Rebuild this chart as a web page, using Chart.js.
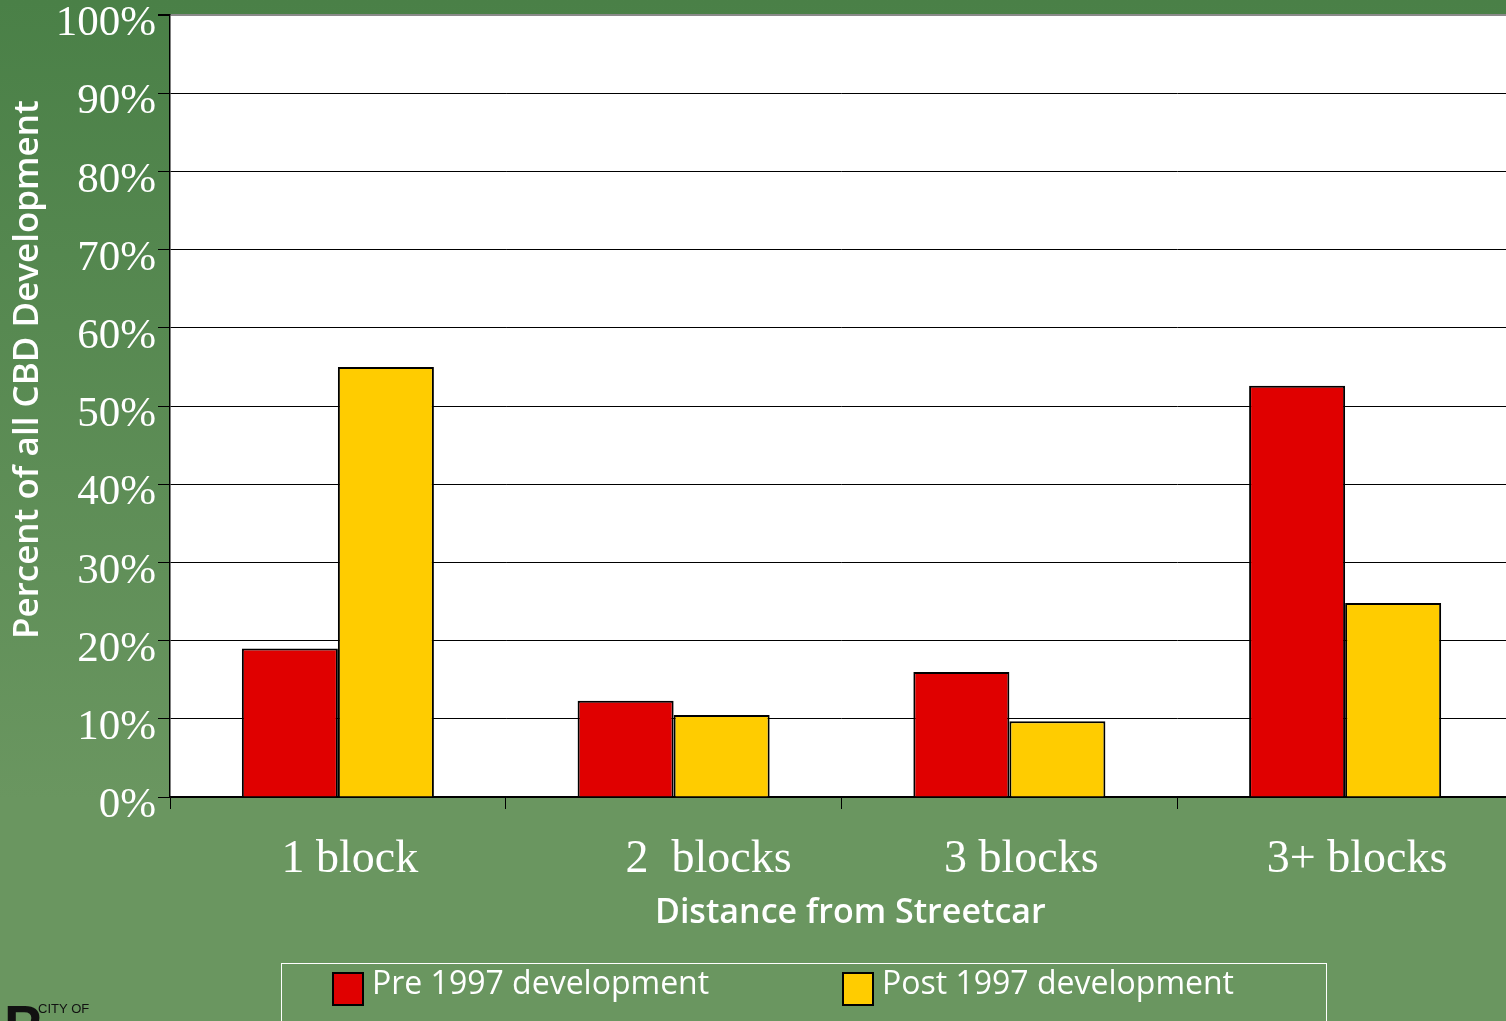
<!DOCTYPE html>
<html>
<head>
<meta charset="utf-8">
<script src="https://cdn.jsdelivr.net/npm/chart.js@4.4.1/dist/chart.umd.min.js"></script>
<style>
html, body { margin: 0; padding: 0; background: #6a9660; overflow: hidden; }
#wrap { width: 1506px; height: 1021px; overflow: hidden; }
</style>
</head>
<body>
<div id="wrap"><canvas id="chart" width="1513" height="1021"></canvas></div>
<script>
// data (percent of all CBD development)
var categories = ['1 block', '2  blocks', '3 blocks', '3+ blocks'];
var preValues = [19, 12.3, 16, 52.6];
var postValues = [55, 10.5, 9.7, 24.8];
var seriesNames = ['Pre 1997 development', 'Post 1997 development'];
var seriesColors = ['#e00000', '#ffcc00'];
var yMax = 100;
var yStep = 10;

// green slide background + white plot area
var bgPlugin = {
	id: 'bg',
	beforeDraw: function (chart) {
		var ctx = chart.ctx, a = chart.chartArea;
		var g = ctx.createLinearGradient(0, 0, 0, 800);
		g.addColorStop(0, '#4a8047');
		g.addColorStop(1, '#6a9660');
		ctx.save();
		ctx.fillStyle = g;
		ctx.fillRect(0, 0, chart.width, chart.height);
		ctx.fillStyle = '#ffffff';
		ctx.fillRect(a.left, a.top, a.right - a.left, a.bottom - a.top);
		ctx.restore();
	}
};

// boxed legend along the bottom, plus the cropped city logo
var legendPlugin = {
	id: 'legendBox',
	afterDraw: function (chart) {
		var ctx = chart.ctx;
		var xs = [333, 843];
		ctx.save();
		ctx.strokeStyle = '#ffffff';
		ctx.lineWidth = 1;
		ctx.strokeRect(281.5, 963.5, 1045, 80);
		chart.data.datasets.forEach(function (ds, i) {
			ctx.fillStyle = ds.backgroundColor;
			ctx.fillRect(xs[i], 973, 30, 32);
			ctx.strokeStyle = '#000';
			ctx.lineWidth = 2;
			ctx.strokeRect(xs[i], 973, 30, 32);
			ctx.fillStyle = '#ffffff';
			ctx.font = '32px "Open Sans"';
			ctx.textBaseline = 'middle';
			ctx.textAlign = 'left';
			ctx.fillText(ds.label, xs[i] + 39, 985);
		});
		ctx.fillStyle = '#111';
		ctx.textBaseline = 'alphabetic';
		ctx.font = '13px "Liberation Sans Narrow", "Liberation Sans"';
		ctx.fillText('CITY OF', 38, 1013);
		ctx.font = 'bold 56px "Liberation Sans"';
		ctx.fillText('P', 4, 1044);
		ctx.font = 'bold 30px "Liberation Sans"';
		ctx.fillText('ORTLAND', 38, 1043);
		ctx.restore();
	}
};

new Chart(document.getElementById('chart'), {
	type: 'bar',
	data: {
		labels: categories,
		datasets: [
			{ label: seriesNames[0], data: preValues, backgroundColor: seriesColors[0], borderColor: '#000', borderWidth: 2 },
			{ label: seriesNames[1], data: postValues, backgroundColor: seriesColors[1], borderColor: '#000', borderWidth: 2 }
		]
	},
	options: {
		responsive: false,
		animation: false,
		devicePixelRatio: 1,
		layout: { padding: { top: 15, left: 0, right: 0, bottom: 0 } },
		datasets: { bar: { barPercentage: 1, categoryPercentage: 0.572 } },
		plugins: { legend: { display: false }, tooltip: { enabled: false } },
		scales: {
			x: {
				offset: true,
				grid: { offset: true, drawOnChartArea: false, drawTicks: true, tickLength: 12, color: '#000', lineWidth: 1 },
				border: { color: '#000', width: 1.5 },
				ticks: {
					color: '#ffffff',
					font: { family: 'Liberation Serif', size: 46 },
					padding: 23,
					labelOffset: 12,
					maxRotation: 0,
					autoSkip: false,
					// the second label sits further right in the original slide
					callback: function (v, i) { return i === 1 ? '    ' + categories[i] : categories[i]; }
				},
				title: {
					display: true,
					text: '  Distance from Streetcar',
					color: '#ffffff',
					font: { family: 'Open Sans', size: 34, weight: '600' },
					padding: { top: 0, bottom: 87 }
				},
				afterFit: function (s) { s.height = 224; s.paddingLeft = 0; s.paddingRight = 0; }
			},
			y: {
				min: 0,
				max: yMax,
				grid: {
					color: function (c) { return c.tick && c.tick.value === yMax ? '#8a8a8a' : '#000'; },
					lineWidth: function (c) { return c.tick && c.tick.value === yMax ? 2 : 1; },
					tickColor: '#000',
					tickLength: 12
				},
				border: { color: '#000', width: 1.5 },
				ticks: {
					stepSize: yStep,
					color: '#ffffff',
					font: { family: 'Liberation Serif', size: 43 },
					padding: 2,
					labelOffset: 9,
					callback: function (v) { return v + '%'; }
				},
				title: {
					display: true,
					text: '        Percent of all CBD Development',
					color: '#ffffff',
					font: { family: 'Open Sans', size: 35, weight: '600' },
					padding: { top: 7, bottom: 0 }
				},
				afterFit: function (s) { s.width = 170; s.paddingTop = 0; s.paddingBottom = 0; }
			}
		}
	},
	plugins: [bgPlugin, legendPlugin]
});
</script>
</body>
</html>
